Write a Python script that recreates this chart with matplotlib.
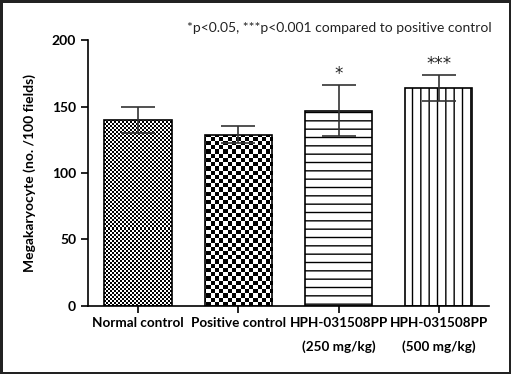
import numpy as np
import matplotlib
matplotlib.use("Agg")
import matplotlib.pyplot as plt

groups = ["Normal control", "Positive control", "HPH-031508PP\n(250 mg/kg)", "HPH-031508PP\n(500 mg/kg)"]
means = [140, 129, 147, 164]
sds = [10, 6.5, 19, 10]
stars = ["", "", "*", "***"]

plt.rcParams['font.family'] = ['Lato', 'DejaVu Sans']
plt.rcParams['hatch.linewidth'] = 1.0

fig = plt.figure(figsize=(5.11, 3.74), dpi=100)
fig.patch.set_edgecolor('#222222')
fig.patch.set_linewidth(2.5)
ax = fig.add_axes([0.172, 0.183, 0.785, 0.709])

x = np.arange(len(groups))
bars = ax.bar(x, means, width=0.67, color='white', edgecolor='black', linewidth=1.2, zorder=2)
bars[2].set_hatch('--')
bars[3].set_hatch('||')

ax.set_xlim(-0.5, 3.5)
ax.set_ylim(0, 200)

# checkerboard fills for the two control bars (cell size in pixels)
def checker(bar, cell_px):
    nx = int(400 / cell_px)
    ny = int(265 / cell_px)
    board = (np.add.outer(np.arange(ny), np.arange(nx)) % 2).astype(float)
    im = ax.imshow(board, cmap='gray', extent=(-0.5, 3.5, 0, 200), aspect='auto',
                   interpolation='nearest', origin='lower', zorder=2.5)
    im.set_clip_path(bar)
    bar.set_facecolor('none')
    bar.set_zorder(3)

checker(bars[0], 2)
checker(bars[1], 4.2)

ax.errorbar(x, means, yerr=sds, fmt='none', ecolor='#333333', elinewidth=1.2,
            capsize=12, capthick=1.2, zorder=4)

for xi, m, s, st in zip(x, means, sds, stars):
    if st:
        ax.text(xi, m + s + 1.5, st, ha='center', va='bottom', fontsize=12, color='#222222',
                family='DejaVu Sans')

ax.spines['top'].set_visible(False)
ax.spines['right'].set_visible(False)
ax.spines['left'].set_linewidth(1.2)
ax.spines['bottom'].set_linewidth(1.2)
ax.set_yticks([0, 50, 100, 150, 200])
ax.set_xticks(x)
ax.set_xticklabels(groups, fontweight='bold', fontsize=9.7, linespacing=2.0)
ax.tick_params(axis='y', labelsize=10, length=5, width=1.2)
ax.tick_params(axis='x', length=5, width=1.2)
for t in ax.get_yticklabels():
    t.set_fontweight('bold')
ax.set_ylabel("Megakaryocyte (no. /100 fields)", fontweight='bold', fontsize=10)
ax.yaxis.set_label_coords(-0.13, 0.5)

fig.text(0.963, 0.925, "*p<0.05, ***p<0.001 compared to positive control", ha='right', va='center',
         fontsize=10, color='#222222')

fig.savefig("out.png", dpi=100, edgecolor=fig.get_edgecolor())
